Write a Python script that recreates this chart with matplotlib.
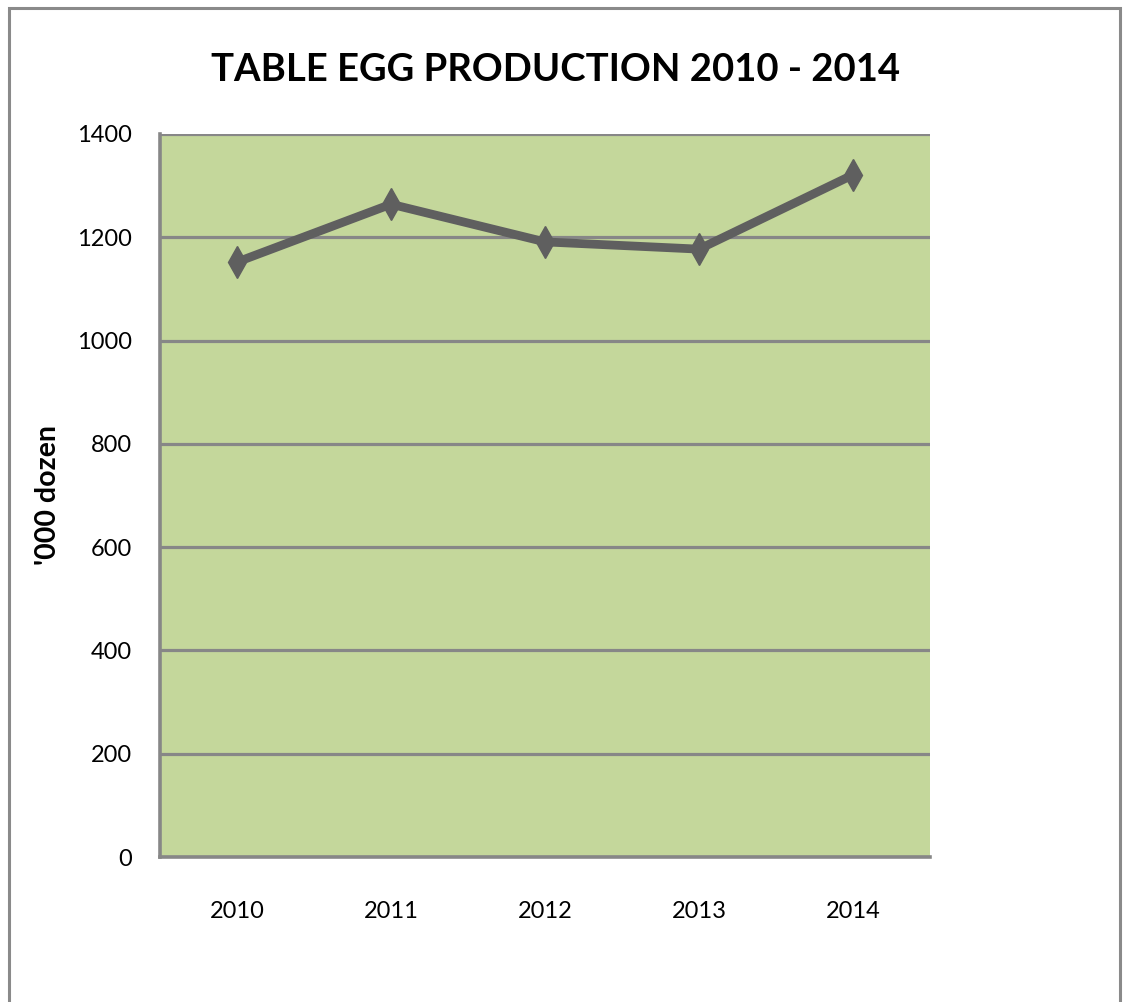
import numpy as np
import matplotlib
matplotlib.use('Agg')
import matplotlib.pyplot as plt
from matplotlib.patches import Rectangle

plt.rcParams['font.family'] = ['Lato', 'DejaVu Sans']

# data
years = ['2010', '2011', '2012', '2013', '2014']
production = [1152, 1264, 1191, 1177, 1321]  # '000 dozen
yticks = [0, 200, 400, 600, 800, 1000, 1200, 1400]

gridCol = '#878787'
lineCol = '#5f5f5f'

fig = plt.figure(figsize=(11.23, 10.02), dpi=100)
ax = fig.add_axes([0.1425, 0.1447, 0.6857, 0.7216])
ax.set_facecolor('#c4d79b')

x = np.arange(len(years))
ax.plot(x, production, color=lineCol, lw=6.3, marker='d', ms=16,
        mfc=lineCol, mec=lineCol, mew=1, solid_joinstyle='miter', zorder=3)

ax.set_xlim(-0.5, len(years) - 0.5)
ax.set_ylim(0, 1400)
ax.set_yticks(yticks)
ax.set_xticks(x)
ax.set_xticklabels(years)
ax.yaxis.grid(True, color=gridCol, lw=2.3)
ax.set_axisbelow(True)

for s in ['top', 'right']:
    ax.spines[s].set_visible(False)
for s in ['left', 'bottom']:
    ax.spines[s].set_color(gridCol)
    ax.spines[s].set_linewidth(2.6)

ax.tick_params(axis='both', length=0, labelsize=17)
ax.tick_params(axis='y', pad=20)
ax.tick_params(axis='x', pad=32)

ax.set_ylabel("'000 dozen", fontsize=20.5, fontweight='bold')
ax.yaxis.set_label_coords(-0.128, 0.5)
fig.text(0.495, 0.93, 'TABLE EGG PRODUCTION 2010 - 2014', ha='center', va='center',
         fontsize=27.5, fontweight='bold')

# chart border
fig.patches.append(Rectangle((9 / 1123, -0.05), 1111 / 1123, 1.05 - 8 / 1002,
                             transform=fig.transFigure, fill=False,
                             edgecolor='#8a8a8a', lw=2.2, clip_on=False))

fig.savefig('out.png', dpi=100, facecolor='white')
